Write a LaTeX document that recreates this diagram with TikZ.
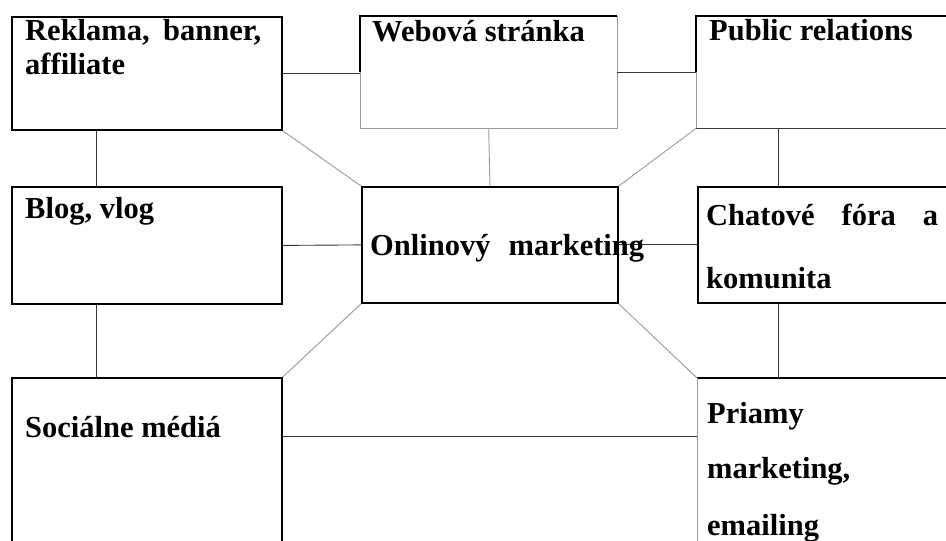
\documentclass[tikz,border=0pt]{standalone}
\usepackage{fontspec}
\setmainfont{Liberation Serif}
\usetikzlibrary{calc}
\definecolor{dk}{HTML}{383838}
\definecolor{lg}{HTML}{9A9A9A}
\begin{document}
\begin{tikzpicture}[x=1pt,y=-1pt,
  box/.style={draw=black,line width=1.8pt,inner sep=0pt,anchor=north west},
  bare/.style={draw=none,inner sep=0pt,anchor=north west},
  lbl/.style={inner sep=0pt,anchor=base west,font=\fontsize{30.5}{35}\selectfont\bfseries},
  conn/.style={draw=dk,line width=0.9pt},
  lconn/.style={draw=lg,line width=0.9pt},
  thickedge/.style={draw=black,line width=1.8pt}]
\useasboundingbox (0,0) rectangle (946,541);
\clip (0,0) rectangle (946,541);
\fill[white] (0,0) rectangle (946,541);
% boxes
\node[box, minimum width=270pt, minimum height=113pt] (rek) at (11,16) {};
\node[bare, minimum width=257pt, minimum height=112pt] (web) at (360,16) {};
\node[bare, minimum width=300pt, minimum height=112pt] (pr) at (696,16) {};
\node[box, minimum width=270pt, minimum height=117pt] (blog) at (11,186) {};
\node[box, minimum width=256pt, minimum height=116pt] (onl) at (361,186) {};
\node[box, minimum width=300pt, minimum height=116pt] (chat) at (697,186) {};
\node[box, minimum width=270pt, minimum height=200pt] (soc) at (11,377) {};
\node[bare, minimum width=300pt, minimum height=200pt] (pri) at (697,378) {};
% partial frames
\draw[thickedge] (web.west) -- (web.north west) -- (web.north east);
\draw[lconn] (web.west) -- (web.south west) -- (web.south east) -- (web.north east);
\draw[thickedge] (pr.west) -- (pr.north west) -- (pr.north east);
\draw[lconn] (pr.west) -- (pr.south west);
\draw[conn] (pr.south west) -- (pr.south east);
\draw[thickedge] (pri.north west) -- (pri.north east);
\draw[lconn] (pri.north west) -- (pri.south west);
% connectors
\draw[conn] (rek.east) -- (rek.east -| web.west);
\draw[conn] (web.east) -- (pr.west);
\draw[conn] ($(rek.south west)+(85,0)$) -- ($(blog.north west)+(85,0)$);
\draw[lconn] (web.south) -- (onl.north);
\draw[conn] ($(pr.south west)+(82,0)$) -- ($(chat.north west)+(81,0)$);
\draw[conn] (blog.east) -- (onl.west);
\draw[conn] (onl.east) -- (chat.west);
\draw[conn] ($(blog.south west)+(85,0)$) -- ($(soc.north west)+(85,0)$);
\draw[conn] ($(chat.south west)+(81,0)$) -- ($(pri.north west)+(81,0)$);
\draw[conn] ($(soc.north east)+(0,59)$) -- ($(pri.north west)+(0,58)$);
\draw[lconn] (rek.south east) -- (onl.north west);
\draw[lconn] (onl.north east) -- (pr.south west);
\draw[lconn] (onl.south west) -- (soc.north east);
\draw[lconn] (onl.south east) -- (pri.north west);
% labels
\node[lbl] (trek1) at (25,40) {\makebox[236pt][s]{Reklama, banner,}};
\node[lbl] (trek2) at (25,74) {affiliate};
\node[lbl] (tweb) at (372,41) {Webová stránka};
\node[lbl] (tpr) at (709,40) {Public relations};
\node[lbl] (tblog) at (25,218) {Blog, vlog};
\node[lbl] (tonl) at (370,255) {\makebox[274pt][s]{Onlinový marketing}};
\node[lbl] (tchat) at (706,225) {\makebox[232pt][s]{Chatové fóra a}};
\node[lbl] (tkom) at (706,288) {komunita};
\node[lbl] (tsoc) at (25,437) {Sociálne médiá};
\node[lbl] (tpri1) at (707,423) {Priamy};
\node[lbl] (tpri2) at (707,478) {marketing,};
\node[lbl] (tpri3) at (707,535) {emailing};
\end{tikzpicture}
\end{document}
